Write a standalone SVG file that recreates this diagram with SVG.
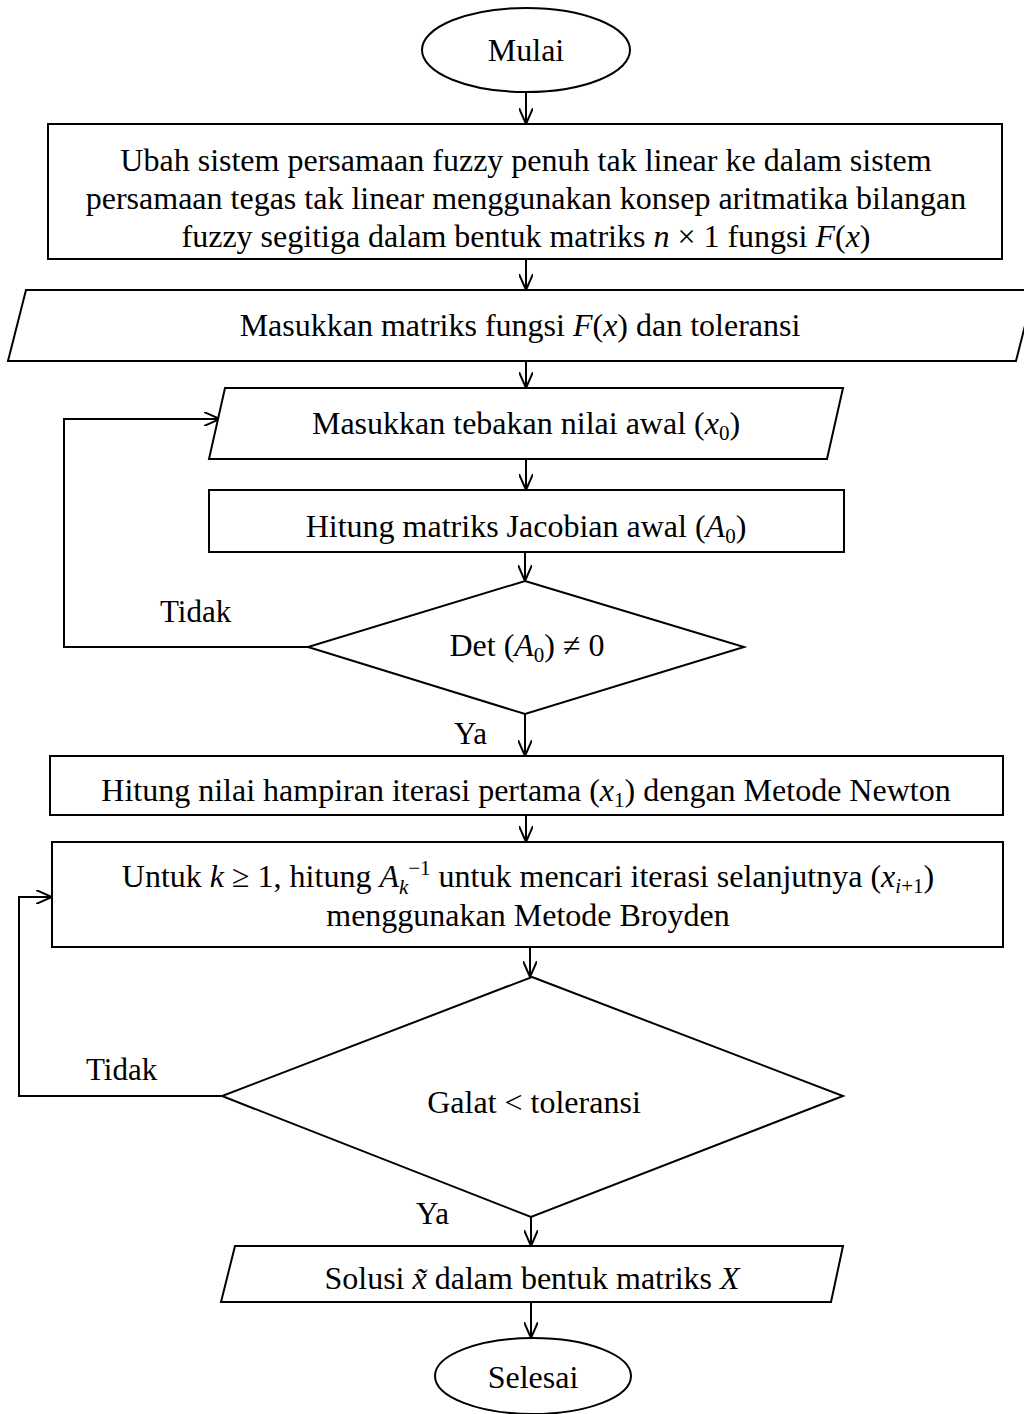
<svg xmlns="http://www.w3.org/2000/svg" width="1024" height="1414" viewBox="0 0 1024 1414">
<style>
.s{fill:#fff;stroke:#000;stroke-width:2;}
.c{fill:none;stroke:#000;stroke-width:2;}
.t{font-family:"Liberation Serif","Times New Roman",serif;font-size:32px;fill:#000;text-anchor:middle;}
.l{font-family:"Liberation Serif","Times New Roman",serif;font-size:31px;fill:#000;}
.i{font-style:italic;}
</style>
<defs>
<marker id="ah" viewBox="0 0 16 14" refX="16" refY="7" markerWidth="16" markerHeight="14" markerUnits="userSpaceOnUse" orient="auto">
<path d="M0,0 L16,7 L0,14" fill="none" stroke="#000" stroke-width="2"/>
</marker>
</defs>
<rect width="1024" height="1414" fill="#fff"/>

<g id="connectors">
<line class="c" x1="526" y1="92" x2="526" y2="124" marker-end="url(#ah)"/>
<line class="c" x1="526" y1="259" x2="526" y2="290" marker-end="url(#ah)"/>
<line class="c" x1="526" y1="361" x2="526" y2="388" marker-end="url(#ah)"/>
<line class="c" x1="526" y1="459" x2="526" y2="490" marker-end="url(#ah)"/>
<line class="c" x1="525" y1="552" x2="525" y2="581" marker-end="url(#ah)"/>
<polyline class="c" points="308,647 64,647 64,419 220,419" marker-end="url(#ah)"/>
<line class="c" x1="525" y1="714" x2="525" y2="756" marker-end="url(#ah)"/>
<line class="c" x1="526" y1="815" x2="526" y2="842" marker-end="url(#ah)"/>
<line class="c" x1="530" y1="947" x2="530" y2="977" marker-end="url(#ah)"/>
<polyline class="c" points="222,1096 19,1096 19,897 52,897" marker-end="url(#ah)"/>
<line class="c" x1="531" y1="1217" x2="531" y2="1246" marker-end="url(#ah)"/>
<line class="c" x1="531" y1="1302" x2="531" y2="1338" marker-end="url(#ah)"/>
<text class="l" x="160" y="622">Tidak</text>
<text class="l" x="454" y="744">Ya</text>
<text class="l" x="86" y="1080">Tidak</text>
<text class="l" x="416" y="1224">Ya</text>
</g>

<g id="start">
<ellipse class="s" cx="526" cy="50" rx="104" ry="42"/>
<text class="t" x="526" y="61">Mulai</text>
</g>

<g id="convert">
<rect class="s" x="48" y="124" width="954" height="135"/>
<text class="t" x="526" y="171">Ubah sistem persamaan fuzzy penuh tak linear ke dalam sistem</text>
<text class="t" x="526" y="209">persamaan tegas tak linear menggunakan konsep aritmatika bilangan</text>
<text class="t" x="526" y="247">fuzzy segitiga dalam bentuk matriks <tspan class="i">n</tspan> × 1 fungsi <tspan class="i">F</tspan>(<tspan class="i">x</tspan>)</text>
</g>

<g id="input-matrix">
<polygon class="s" points="26,290 1034,290 1016,361 8,361"/>
<text class="t" x="520" y="336">Masukkan matriks fungsi <tspan class="i">F</tspan>(<tspan class="i">x</tspan>) dan toleransi</text>
</g>

<g id="input-guess">
<polygon class="s" points="225,388 843,388 827,459 209,459"/>
<text class="t" x="526" y="434">Masukkan tebakan nilai awal (<tspan class="i">x</tspan><tspan font-size="21" dy="6">0</tspan><tspan dy="-6">)</tspan></text>
</g>

<g id="jacobian">
<rect class="s" x="209" y="490" width="635" height="62"/>
<text class="t" x="526" y="537">Hitung matriks Jacobian awal (<tspan class="i">A</tspan><tspan font-size="21" dy="6">0</tspan><tspan dy="-6">)</tspan></text>
</g>

<g id="det-check">
<polygon class="s" points="525,581 744,647 525,714 308,647"/>
<text class="t" x="527" y="656">Det (<tspan class="i">A</tspan><tspan font-size="21" dy="6">0</tspan><tspan dy="-6">) ≠ 0</tspan></text>
</g>

<g id="newton">
<rect class="s" x="50" y="756" width="953" height="59"/>
<text class="t" x="526" y="801">Hitung nilai hampiran iterasi pertama (<tspan class="i">x</tspan><tspan font-size="21" dy="6">1</tspan><tspan dy="-6">) dengan Metode Newton</tspan></text>
</g>

<g id="broyden">
<rect class="s" x="52" y="842" width="951" height="105"/>
<text class="t" x="528" y="887">Untuk <tspan class="i">k</tspan> ≥ 1, hitung <tspan class="i">A</tspan><tspan class="i" font-size="21" dy="7">k</tspan><tspan font-size="21" dx="0" dy="-19">−1</tspan><tspan dy="12"> untuk mencari iterasi selanjutnya (</tspan><tspan class="i">x</tspan><tspan class="i" font-size="21" dy="6">i</tspan><tspan font-size="21">+1</tspan><tspan dy="-6">)</tspan></text>
<text class="t" x="528" y="926">menggunakan Metode Broyden</text>
</g>

<g id="error-check">
<polygon class="s" points="532,977 843,1096 531,1217 222,1096"/>
<text class="t" x="534" y="1113">Galat &lt; toleransi</text>
</g>

<g id="output">
<polygon class="s" points="235,1246 843,1246 831,1302 221,1302"/>
<text class="t" x="532" y="1289">Solusi <tspan class="i">x̃</tspan> dalam bentuk matriks <tspan class="i">X</tspan></text>
</g>

<g id="end">
<ellipse class="s" cx="533" cy="1376" rx="98" ry="38"/>
<text class="t" x="533" y="1388">Selesai</text>
</g>
</svg>
